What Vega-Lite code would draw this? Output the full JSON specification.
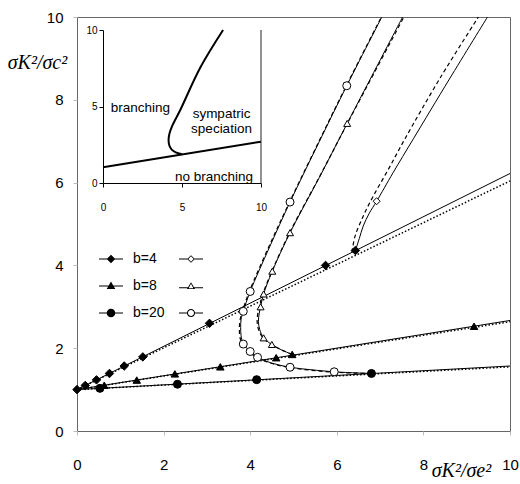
{
  "$schema": "https://vega.github.io/schema/vega-lite/v6.json",
  "width": 433,
  "height": 414,
  "autosize": "none",
  "padding": {"left": 77, "top": 17, "right": 10, "bottom": 53},
  "config": {
    "view": {"stroke": "#666666", "strokeWidth": 1},
    "font": "Liberation Sans"
  },
  "datasets": {
    "curves": [
      {"b": 4, "branch": "lower", "model": "exact", "x": 0, "y": 1},
      {"b": 4, "branch": "lower", "model": "exact", "x": 10, "y": 6.22},
      {"b": 4, "branch": "lower", "model": "approx", "x": 0, "y": 1},
      {"b": 4, "branch": "lower", "model": "approx", "x": 10, "y": 6.04},
      {"b": 8, "branch": "lower", "model": "exact", "x": 0, "y": 1},
      {"b": 8, "branch": "lower", "model": "exact", "x": 10, "y": 2.67},
      {"b": 8, "branch": "lower", "model": "approx", "x": 0, "y": 1},
      {"b": 8, "branch": "lower", "model": "approx", "x": 10, "y": 2.64},
      {"b": 20, "branch": "lower", "model": "exact", "x": 0, "y": 1},
      {"b": 20, "branch": "lower", "model": "exact", "x": 10, "y": 1.57},
      {"b": 20, "branch": "lower", "model": "approx", "x": 0, "y": 1},
      {"b": 20, "branch": "lower", "model": "approx", "x": 10, "y": 1.55},
      {"b": 4, "branch": "upper", "model": "exact", "x": 6.43, "y": 4.36},
      {"b": 4, "branch": "upper", "model": "exact", "x": 6.52, "y": 4.65},
      {"b": 4, "branch": "upper", "model": "exact", "x": 6.61, "y": 4.95},
      {"b": 4, "branch": "upper", "model": "exact", "x": 6.75, "y": 5.26},
      {"b": 4, "branch": "upper", "model": "exact", "x": 6.92, "y": 5.55},
      {"b": 4, "branch": "upper", "model": "exact", "x": 7.3, "y": 6.24},
      {"b": 4, "branch": "upper", "model": "exact", "x": 7.77, "y": 7.06},
      {"b": 4, "branch": "upper", "model": "exact", "x": 8.6, "y": 8.5},
      {"b": 4, "branch": "upper", "model": "exact", "x": 9.48, "y": 10},
      {"b": 4, "branch": "upper", "model": "approx", "x": 6.35, "y": 4.32},
      {"b": 4, "branch": "upper", "model": "approx", "x": 6.42, "y": 4.7},
      {"b": 4, "branch": "upper", "model": "approx", "x": 6.61, "y": 5.19},
      {"b": 4, "branch": "upper", "model": "approx", "x": 6.84, "y": 5.67},
      {"b": 4, "branch": "upper", "model": "approx", "x": 7.19, "y": 6.32},
      {"b": 4, "branch": "upper", "model": "approx", "x": 7.57, "y": 7.05},
      {"b": 4, "branch": "upper", "model": "approx", "x": 8.4, "y": 8.55},
      {"b": 4, "branch": "upper", "model": "approx", "x": 9.27, "y": 10},
      {"b": 8, "branch": "upper", "model": "exact", "x": 4.97, "y": 1.85},
      {"b": 8, "branch": "upper", "model": "exact", "x": 4.72, "y": 1.96},
      {"b": 8, "branch": "upper", "model": "exact", "x": 4.5, "y": 2.09},
      {"b": 8, "branch": "upper", "model": "exact", "x": 4.31, "y": 2.25},
      {"b": 8, "branch": "upper", "model": "exact", "x": 4.22, "y": 2.45},
      {"b": 8, "branch": "upper", "model": "exact", "x": 4.19, "y": 2.65},
      {"b": 8, "branch": "upper", "model": "exact", "x": 4.21, "y": 2.85},
      {"b": 8, "branch": "upper", "model": "exact", "x": 4.24, "y": 3.0},
      {"b": 8, "branch": "upper", "model": "exact", "x": 4.31, "y": 3.31},
      {"b": 8, "branch": "upper", "model": "exact", "x": 4.51, "y": 3.86},
      {"b": 8, "branch": "upper", "model": "exact", "x": 4.92, "y": 4.79},
      {"b": 8, "branch": "upper", "model": "exact", "x": 5.6, "y": 6.13},
      {"b": 8, "branch": "upper", "model": "exact", "x": 6.24, "y": 7.43},
      {"b": 8, "branch": "upper", "model": "exact", "x": 7.52, "y": 10},
      {"b": 8, "branch": "upper", "model": "approx", "x": 4.97, "y": 1.85},
      {"b": 8, "branch": "upper", "model": "approx", "x": 4.7, "y": 1.97},
      {"b": 8, "branch": "upper", "model": "approx", "x": 4.47, "y": 2.1},
      {"b": 8, "branch": "upper", "model": "approx", "x": 4.28, "y": 2.27},
      {"b": 8, "branch": "upper", "model": "approx", "x": 4.19, "y": 2.46},
      {"b": 8, "branch": "upper", "model": "approx", "x": 4.16, "y": 2.66},
      {"b": 8, "branch": "upper", "model": "approx", "x": 4.18, "y": 2.86},
      {"b": 8, "branch": "upper", "model": "approx", "x": 4.22, "y": 3.02},
      {"b": 8, "branch": "upper", "model": "approx", "x": 4.3, "y": 3.33},
      {"b": 8, "branch": "upper", "model": "approx", "x": 4.51, "y": 3.88},
      {"b": 8, "branch": "upper", "model": "approx", "x": 4.93, "y": 4.83},
      {"b": 8, "branch": "upper", "model": "approx", "x": 5.61, "y": 6.16},
      {"b": 8, "branch": "upper", "model": "approx", "x": 6.26, "y": 7.46},
      {"b": 8, "branch": "upper", "model": "approx", "x": 7.55, "y": 10},
      {"b": 20, "branch": "upper", "model": "exact", "x": 6.8, "y": 1.39},
      {"b": 20, "branch": "upper", "model": "exact", "x": 6.3, "y": 1.41},
      {"b": 20, "branch": "upper", "model": "exact", "x": 5.94, "y": 1.43},
      {"b": 20, "branch": "upper", "model": "exact", "x": 5.4, "y": 1.48},
      {"b": 20, "branch": "upper", "model": "exact", "x": 4.92, "y": 1.54},
      {"b": 20, "branch": "upper", "model": "exact", "x": 4.5, "y": 1.64},
      {"b": 20, "branch": "upper", "model": "exact", "x": 4.17, "y": 1.78},
      {"b": 20, "branch": "upper", "model": "exact", "x": 4.0, "y": 1.92},
      {"b": 20, "branch": "upper", "model": "exact", "x": 3.84, "y": 2.1},
      {"b": 20, "branch": "upper", "model": "exact", "x": 3.79, "y": 2.3},
      {"b": 20, "branch": "upper", "model": "exact", "x": 3.78, "y": 2.5},
      {"b": 20, "branch": "upper", "model": "exact", "x": 3.79, "y": 2.7},
      {"b": 20, "branch": "upper", "model": "exact", "x": 3.84, "y": 2.89},
      {"b": 20, "branch": "upper", "model": "exact", "x": 4.0, "y": 3.37},
      {"b": 20, "branch": "upper", "model": "exact", "x": 4.45, "y": 4.45},
      {"b": 20, "branch": "upper", "model": "exact", "x": 4.92, "y": 5.53},
      {"b": 20, "branch": "upper", "model": "exact", "x": 5.6, "y": 7.0},
      {"b": 20, "branch": "upper", "model": "exact", "x": 6.23, "y": 8.34},
      {"b": 20, "branch": "upper", "model": "exact", "x": 7.04, "y": 10},
      {"b": 20, "branch": "upper", "model": "approx", "x": 6.8, "y": 1.39},
      {"b": 20, "branch": "upper", "model": "approx", "x": 5.94, "y": 1.42},
      {"b": 20, "branch": "upper", "model": "approx", "x": 4.92, "y": 1.53},
      {"b": 20, "branch": "upper", "model": "approx", "x": 4.5, "y": 1.63},
      {"b": 20, "branch": "upper", "model": "approx", "x": 4.15, "y": 1.78},
      {"b": 20, "branch": "upper", "model": "approx", "x": 3.97, "y": 1.92},
      {"b": 20, "branch": "upper", "model": "approx", "x": 3.81, "y": 2.1},
      {"b": 20, "branch": "upper", "model": "approx", "x": 3.76, "y": 2.3},
      {"b": 20, "branch": "upper", "model": "approx", "x": 3.75, "y": 2.5},
      {"b": 20, "branch": "upper", "model": "approx", "x": 3.77, "y": 2.7},
      {"b": 20, "branch": "upper", "model": "approx", "x": 3.82, "y": 2.89},
      {"b": 20, "branch": "upper", "model": "approx", "x": 3.98, "y": 3.37},
      {"b": 20, "branch": "upper", "model": "approx", "x": 4.43, "y": 4.45},
      {"b": 20, "branch": "upper", "model": "approx", "x": 4.91, "y": 5.53},
      {"b": 20, "branch": "upper", "model": "approx", "x": 5.59, "y": 7.0},
      {"b": 20, "branch": "upper", "model": "approx", "x": 6.22, "y": 8.34},
      {"b": 20, "branch": "upper", "model": "approx", "x": 7.03, "y": 10}
    ],
    "markers": [
      {"b": 4, "branch": "lower", "x": 0, "y": 1},
      {"b": 4, "branch": "lower", "x": 0.19, "y": 1.1},
      {"b": 4, "branch": "lower", "x": 0.45, "y": 1.235},
      {"b": 4, "branch": "lower", "x": 0.75, "y": 1.39},
      {"b": 4, "branch": "lower", "x": 1.09, "y": 1.57},
      {"b": 4, "branch": "lower", "x": 1.52, "y": 1.79},
      {"b": 4, "branch": "lower", "x": 3.06, "y": 2.6},
      {"b": 4, "branch": "lower", "x": 5.74, "y": 4.0},
      {"b": 4, "branch": "lower", "x": 6.43, "y": 4.36},
      {"b": 4, "branch": "upper", "x": 6.92, "y": 5.55},
      {"b": 8, "branch": "lower", "x": 0.63, "y": 1.105},
      {"b": 8, "branch": "lower", "x": 1.38, "y": 1.23},
      {"b": 8, "branch": "lower", "x": 2.26, "y": 1.38},
      {"b": 8, "branch": "lower", "x": 3.31, "y": 1.55},
      {"b": 8, "branch": "lower", "x": 4.6, "y": 1.77},
      {"b": 8, "branch": "lower", "x": 4.97, "y": 1.85},
      {"b": 8, "branch": "lower", "x": 9.17, "y": 2.53},
      {"b": 8, "branch": "upper", "x": 4.5, "y": 2.09},
      {"b": 8, "branch": "upper", "x": 4.31, "y": 2.25},
      {"b": 8, "branch": "upper", "x": 4.24, "y": 3.0},
      {"b": 8, "branch": "upper", "x": 4.31, "y": 3.31},
      {"b": 8, "branch": "upper", "x": 4.51, "y": 3.86},
      {"b": 8, "branch": "upper", "x": 4.92, "y": 4.79},
      {"b": 8, "branch": "upper", "x": 6.24, "y": 7.43},
      {"b": 20, "branch": "lower", "x": 0.53, "y": 1.03},
      {"b": 20, "branch": "lower", "x": 2.32, "y": 1.13},
      {"b": 20, "branch": "lower", "x": 4.15, "y": 1.24},
      {"b": 20, "branch": "lower", "x": 6.8, "y": 1.39},
      {"b": 20, "branch": "upper", "x": 5.94, "y": 1.43},
      {"b": 20, "branch": "upper", "x": 4.92, "y": 1.54},
      {"b": 20, "branch": "upper", "x": 4.17, "y": 1.78},
      {"b": 20, "branch": "upper", "x": 4.0, "y": 1.92},
      {"b": 20, "branch": "upper", "x": 3.84, "y": 2.1},
      {"b": 20, "branch": "upper", "x": 3.84, "y": 2.89},
      {"b": 20, "branch": "upper", "x": 4.0, "y": 3.37},
      {"b": 20, "branch": "upper", "x": 4.92, "y": 5.53},
      {"b": 20, "branch": "upper", "x": 6.23, "y": 8.34}
    ],
    "legendEntries": [
      {"entry": "b=4"}, {"entry": "b=8"}, {"entry": "b=20"},
      {"entry": "b=4 open"}, {"entry": "b=8 open"}, {"entry": "b=20 open"}
    ],
    "inset": [
      {"curve": "boundary", "x": 0, "y": 1.03},
      {"curve": "boundary", "x": 10, "y": 2.7},
      {"curve": "speciation", "x": 5.0, "y": 1.88},
      {"curve": "speciation", "x": 4.6, "y": 2.0},
      {"curve": "speciation", "x": 4.35, "y": 2.18},
      {"curve": "speciation", "x": 4.2, "y": 2.45},
      {"curve": "speciation", "x": 4.15, "y": 2.8},
      {"curve": "speciation", "x": 4.2, "y": 3.2},
      {"curve": "speciation", "x": 4.36, "y": 3.68},
      {"curve": "speciation", "x": 4.89, "y": 4.77},
      {"curve": "speciation", "x": 6.16, "y": 7.55},
      {"curve": "speciation", "x": 7.6, "y": 10}
    ],
    "insetLabels": [
      {"label": "branching", "x": 2.36, "y": 4.93},
      {"label": "sympatric\nspeciation", "x": 7.5, "y": 4.49},
      {"label": "no branching", "x": 7.03, "y": 0.41}
    ]
  },
  "layer": [
    {
      "layer": [
        {
          "data": {"name": "curves"},
          "transform": [{"filter": "datum.model === 'exact'"}],
          "mark": {"type": "line", "color": "black", "strokeWidth": 1, "interpolate": "catmull-rom"},
          "encoding": {
            "x": {
              "field": "x", "type": "quantitative",
              "scale": {"domain": [0, 10], "nice": false, "zero": false},
              "axis": {
                "values": [0, 2, 4, 6, 8, 10], "grid": false, "domain": false,
                "tickColor": "#bdbdbd", "tickSize": 4, "labelFlush": false,
                "labelFontSize": 15, "labelColor": "black", "labelPadding": 22,
                "title": "σK²/σe²", "titleX": 384, "titleY": 39,
                "titleAlign": "center", "titleBaseline": "middle",
                "titleFont": "Liberation Serif", "titleFontStyle": "italic",
                "titleFontWeight": "normal", "titleFontSize": 20, "titleColor": "black"
              }
            },
            "y": {
              "field": "y", "type": "quantitative",
              "scale": {"domain": [0, 10], "nice": false, "zero": false},
              "axis": {
                "values": [0, 2, 4, 6, 8, 10], "grid": false, "domain": false,
                "tickColor": "#bdbdbd", "tickSize": 4, "labelFlush": false,
                "labelFontSize": 15, "labelColor": "black", "labelPadding": 10,
                "title": "σK²/σc²", "titleAngle": 0, "titleX": -40, "titleY": 45,
                "titleAlign": "center", "titleBaseline": "middle",
                "titleFont": "Liberation Serif", "titleFontStyle": "italic",
                "titleFontWeight": "normal", "titleFontSize": 20, "titleColor": "black"
              }
            },
            "detail": [{"field": "b"}, {"field": "branch"}],
            "order": {"value": null}
          }
        },
        {
          "data": {"name": "curves"},
          "transform": [{"filter": "datum.model === 'approx' && datum.branch === 'lower'"}],
          "mark": {"type": "line", "color": "black", "strokeWidth": 1.5, "strokeDash": [1.5, 2]},
          "encoding": {
            "x": {"field": "x", "type": "quantitative"},
            "y": {"field": "y", "type": "quantitative"},
            "detail": {"field": "b"},
            "order": {"value": null}
          }
        },
        {
          "data": {"name": "curves"},
          "transform": [{"filter": "datum.model === 'approx' && datum.branch === 'upper'"}],
          "mark": {"type": "line", "color": "black", "strokeWidth": 1.2, "strokeDash": [4, 3], "interpolate": "catmull-rom"},
          "encoding": {
            "x": {"field": "x", "type": "quantitative"},
            "y": {"field": "y", "type": "quantitative"},
            "detail": {"field": "b"},
            "order": {"value": null}
          }
        },
        {
          "data": {"name": "markers"},
          "transform": [{"filter": "datum.b === 4"}],
          "mark": {"type": "point", "shape": "diamond", "stroke": "black", "strokeWidth": 1, "opacity": 1},
          "encoding": {
            "x": {"field": "x", "type": "quantitative"},
            "y": {"field": "y", "type": "quantitative"},
            "fill": {"condition": {"test": "datum.branch === 'lower'", "value": "black"}, "value": "white"},
            "size": {"condition": {"test": "datum.branch === 'lower'", "value": 72}, "value": 49}
          }
        },
        {
          "data": {"name": "markers"},
          "transform": [{"filter": "datum.b === 8"}],
          "mark": {"type": "point", "shape": "triangle-up", "stroke": "black", "strokeWidth": 1, "opacity": 1},
          "encoding": {
            "x": {"field": "x", "type": "quantitative"},
            "y": {"field": "y", "type": "quantitative"},
            "fill": {"condition": {"test": "datum.branch === 'lower'", "value": "black"}, "value": "white"},
            "size": {"condition": {"test": "datum.branch === 'lower'", "value": 56}, "value": 49}
          }
        },
        {
          "data": {"name": "markers"},
          "transform": [{"filter": "datum.b === 20"}],
          "mark": {"type": "point", "shape": "circle", "stroke": "black", "strokeWidth": 1, "opacity": 1},
          "encoding": {
            "x": {"field": "x", "type": "quantitative"},
            "y": {"field": "y", "type": "quantitative"},
            "fill": {"condition": {"test": "datum.branch === 'lower'", "value": "black"}, "value": "white"},
            "size": {"condition": {"test": "datum.branch === 'lower'", "value": 64}, "value": 64}
          }
        },
        {
          "data": {"name": "legendEntries"},
          "mark": {"type": "point", "filled": true, "color": "black", "opacity": 0},
          "encoding": {
            "shape": {
              "field": "entry", "type": "nominal",
              "scale": {
                "domain": ["b=4", "b=8", "b=20", "b=4 open", "b=8 open", "b=20 open"],
                "range": [
                  "M-1,-0.042H1V0.042H-1Z M0,-0.36L0.36,0L0,0.36L-0.36,0Z",
                  "M-1,-0.042H1V0.042H-1Z M0,-0.38L0.36,0.26L-0.36,0.26Z",
                  "M-1,-0.042H1V0.042H-1Z M0.36,0A0.36,0.36 0 1,1 -0.36,0A0.36,0.36 0 1,1 0.36,0Z",
                  "M-1,-0.042H-0.3V0.042H-1Z M0.3,-0.042H1V0.042H0.3Z M0,-0.32L0.32,0L0,0.32L-0.32,0Z M0,-0.22L-0.22,0L0,0.22L0.22,0Z",
                  "M-1,0.11H-0.25V0.19H-1Z M0.25,0.11H1V0.19H0.25Z M0,-0.32L0.34,0.26L-0.34,0.26Z M0,-0.19L-0.2,0.18L0.2,0.18Z",
                  "M-1,-0.042H-0.34V0.042H-1Z M0.34,-0.042H1V0.042H0.34Z M0.34,0A0.34,0.34 0 1,1 -0.34,0A0.34,0.34 0 1,1 0.34,0Z M0.25,0A0.25,0.25 0 1,0 -0.25,0A0.25,0.25 0 1,0 0.25,0Z"
                ]
              },
              "legend": {
                "orient": "none", "legendX": 22, "legendY": 230, "columns": 2,
                "title": null, "padding": 0,
                "labelExpr": "indexof(datum.label, 'open') >= 0 ? '' : datum.label",
                "labelFontSize": 14, "labelColor": "black", "labelOffset": 10,
                "symbolSize": 576, "symbolOpacity": 1, "symbolFillColor": "black",
                "symbolStrokeWidth": 0, "rowPadding": 8, "columnPadding": 14,
                "encode": {
                  "symbols": {
                    "update": {
                      "fill": {"value": "black"},
                      "opacity": {"value": 1}
                    }
                  }
                }
              }
            }
          }
        }
      ]
    },
    {
      "layer": [
        {
          "data": {"name": "inset"},
          "mark": {"type": "line", "color": "black", "strokeWidth": 2, "interpolate": "catmull-rom"},
          "encoding": {
            "x": {
              "field": "x", "type": "quantitative",
              "scale": {"domain": [0, 10], "nice": false, "zero": false, "range": [26, 184]},
              "axis": {
                "orient": "bottom", "offset": -248, "values": [0, 5, 10], "grid": false,
                "domainColor": "black", "tickColor": "black", "tickSize": 4, "labelFlush": false,
                "labelFontSize": 10, "labelColor": "black", "labelPadding": 15, "title": null
              }
            },
            "y": {
              "field": "y", "type": "quantitative",
              "scale": {"domain": [0, 10], "nice": false, "zero": false, "range": [166, 13]},
              "axis": {
                "orient": "left", "offset": -26, "values": [0, 5, 10], "grid": false,
                "domainColor": "black", "tickColor": "black", "tickSize": 4, "labelFlush": false,
                "labelFontSize": 10, "labelColor": "black", "labelPadding": 2, "title": null
              }
            },
            "detail": {"field": "curve"},
            "order": {"value": null}
          }
        },
        {
          "data": {"values": [{}]},
          "mark": {"type": "rule", "color": "#222222", "strokeWidth": 1},
          "encoding": {
            "x": {"datum": 10, "type": "quantitative"},
            "y": {"datum": 0, "type": "quantitative"},
            "y2": {"datum": 10}
          }
        },
        {
          "data": {"name": "insetLabels"},
          "mark": {"type": "text", "fontSize": 13.5, "lineHeight": 15, "lineBreak": "\n", "color": "black", "align": "center", "baseline": "middle"},
          "encoding": {
            "x": {"field": "x", "type": "quantitative"},
            "y": {"field": "y", "type": "quantitative"},
            "text": {"field": "label"}
          }
        }
      ]
    }
  ],
  "resolve": {"scale": {"x": "independent", "y": "independent"}}
}
